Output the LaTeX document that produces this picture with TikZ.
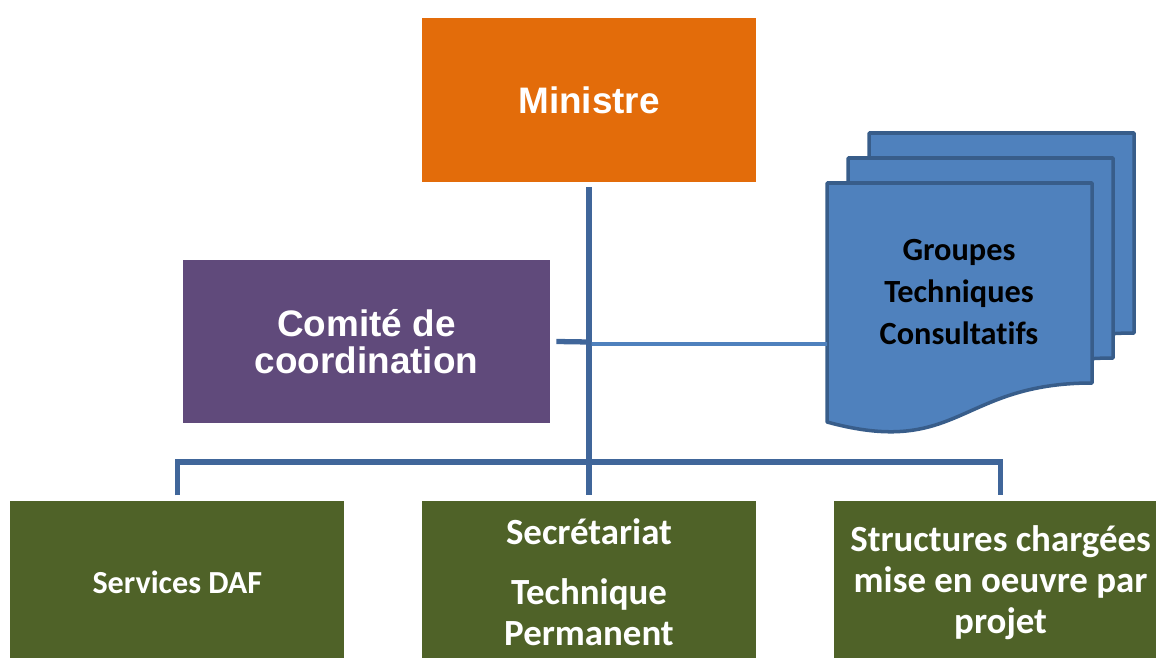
\documentclass[tikz,border=0pt]{standalone}
\usepackage{fontspec}
\setmainfont{Carlito}[Ligatures=NoCommon]
\newfontfamily\arialfont{Liberation Sans}
\usetikzlibrary{positioning}
\definecolor{ministreorange}{RGB}{227,108,10}
\definecolor{comitepurple}{RGB}{96,74,123}
\definecolor{serviceolive}{RGB}{79,98,40}
\definecolor{pageblue}{RGB}{79,129,189}
\definecolor{pageedge}{RGB}{56,93,138}
\definecolor{trunkblue}{RGB}{64,102,154}
\tikzset{
  box/.style={rectangle, inner sep=0pt, align=center, text=white},
  headbox/.style={box, font=\arialfont\bfseries\fontsize{21}{21}\selectfont},
  unitbox/.style={box, fill=serviceolive, minimum width=6.68cm, minimum height=3.28cm,
    font=\bfseries\fontsize{21}{23.5}\selectfont},
  docpage/.style={fill=pageblue, draw=pageedge, line width=2pt, line join=round},
  trunk/.style={draw=trunkblue, line width=3pt},
  link/.style={draw=pageblue, line width=2.2pt}
}

\begin{document}
\begin{tikzpicture}[x=0.02cm, y=-0.02cm]
  \useasboundingbox (0,0) rectangle (1156,658);

  % top of the chart
  \node[headbox, fill=ministreorange, minimum width=6.68cm, minimum height=3.28cm]
    (ministre) at (589,100) {Ministre};
  \node[headbox, fill=comitepurple, minimum width=7.34cm, minimum height=3.26cm]
    (comite) at (366.5,341.5) {Comité de\\coordination};

  % bottom row
  \node[unitbox] (stp) [below=6.36cm of ministre]
    {Secrétariat\\[0.5em]Technique\\Permanent};
  \node[unitbox, font=\bfseries\fontsize{18.3}{23.5}\selectfont] (daf) [left=1.54cm of stp] {Services DAF};
  \node[unitbox] (structures) [right=1.54cm of stp]
    {Structures chargées\\mise en oeuvre par\\projet};

  % stacked pages
  \foreach \dx/\dy in {42/-50, 21/-25, 0/0}
    \draw[docpage, shift={(\dx,\dy)}] (827,183) -- (1092,183) -- (1092,383)
      .. controls (959,383) and (959,458) .. (827,422) -- cycle;
  \node[font=\bfseries\fontsize{18.4}{24}\selectfont, align=center] (gtc) at (959,292)
    {Groupes\\Techniques\\Consultatifs};
  \coordinate (gtcin) at (827,344);

  % connectors
  \coordinate (hub) at (589,342);
  \coordinate (bus) at (589,462);
  \draw[trunk] ([yshift=-0.1cm]ministre.south) -- ([yshift=0.1cm]stp.north);
  \draw[trunk] ([yshift=0.1cm]daf.north) |- (bus) -| ([yshift=0.1cm]structures.north);
  \draw[trunk] ([xshift=0.12cm]comite.east) -- (hub);
  \draw[link] ([xshift=1.5pt, yshift=-0.04cm]hub) -- (gtcin);
\end{tikzpicture}
\end{document}
